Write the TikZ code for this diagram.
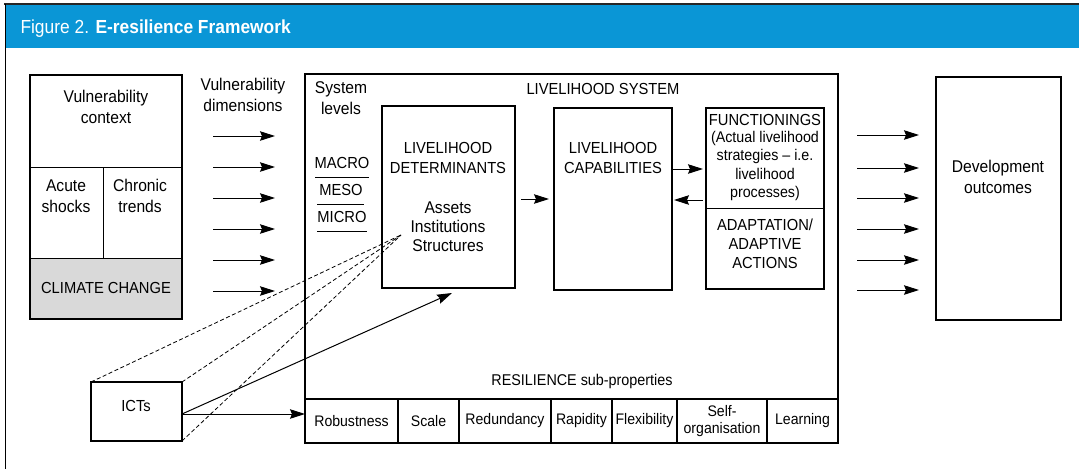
\documentclass[tikz,border=0pt]{standalone}
\usepackage{fontspec}
\setmainfont{Liberation Sans}[FakeStretch=0.92]
\usetikzlibrary{arrows.meta,positioning}
\definecolor{banner}{HTML}{0A96D6}
\definecolor{climgrey}{HTML}{D9D9D9}

\begin{document}
\begin{tikzpicture}[x=1pt,y=-1pt,line width=1pt,
    box/.style={draw,line width=1.1pt,inner sep=0pt,outer sep=0pt},
    txt/.style={align=center,inner sep=0pt,font=\fontsize{17}{21}\selectfont},
    captxt/.style={align=center,inner sep=0pt,font=\fontsize{16}{20}\selectfont},
    smalltxt/.style={align=center,inner sep=0pt,font=\fontsize{15.5}{18.5}\selectfont},
    celltxt/.style={align=center,font=\fontsize{15.3}{16.5}\selectfont},
    arr/.style={-{Stealth[length=15pt,width=9.5pt,inset=2pt]},line width=1pt},
    ictline/.style={dash pattern=on 4pt off 2.5pt,line width=0.8pt}]
    \useasboundingbox (0,0) rectangle (1079,469);

    % title bar
    \fill[banner] (5,5) rectangle (1079,48);
    \draw[line width=1.5pt,black!85] (4,4) -- (1079,4);
    \draw (5,4) -- (5,469);
    \node[anchor=base west,inner sep=0pt,text=white,font=\fontsize{18.9}{21}\selectfont]
        (title) at (20,33) {Figure 2. \textbf{E-resilience Framework}};

    % vulnerability context
    \fill[climgrey] (30,258) rectangle (182,319);
    \node[box,minimum width=152pt,minimum height=244pt] (vc) at (106,197) {};
    \draw (vc.west |- 0,167) -- (vc.east |- 0,167);
    \draw (vc.west |- 0,258) -- (vc.east |- 0,258);
    \draw (103,167) -- (103,258);
    \node[txt] (vctxt) at (106,107) {Vulnerability\\context};
    \node[txt] (acute) at (66,196) {Acute\\shocks};
    \node[txt] (chronic) at (140,196) {Chronic\\trends};
    \node[captxt] (climate) at (106,288) {CLIMATE CHANGE};

    % vulnerability dimensions
    \node[txt] (vdim) at (243,95) {Vulnerability\\dimensions};
    \foreach \y [count=\i] in {136,167,198,229,260,291} {
        \coordinate (vin\i) at (213,\y);
        \coordinate (vout\i) at (275,\y);
        \draw[arr] (vin\i) -- (vout\i);
    }

    % livelihood system
    \node[box,minimum width=533pt,minimum height=369pt] (sys) at (571.5,258.5) {};
    \node[captxt] (systitle) at (603,89) {LIVELIHOOD SYSTEM};
    \node[txt] (levels) at (341,98) {System\\levels};
    \node[captxt] (macro) at (342,163) {MACRO};
    \node[captxt] (meso) at (341,190) {MESO};
    \node[captxt] (micro) at (342,217) {MICRO};
    \draw[line width=0.9pt] (315,177) -- (369,177);
    \draw[line width=0.9pt] (317,204) -- (364,204);
    \draw[line width=0.9pt] (317,231) -- (367,231);

    \node[box,minimum width=133pt,minimum height=182pt] (det) at (448.5,197) {};
    \node[captxt] (dettxt) at (448,158) {LIVELIHOOD\\DETERMINANTS};
    \node[txt,font=\fontsize{17}{19}\selectfont] (assets) at (448,227) {Assets\\Institutions\\Structures};

    \node[box,minimum width=118pt,minimum height=182pt] (cap) at (613,199) {};
    \node[captxt] (captxt) at (613,158) {LIVELIHOOD\\CAPABILITIES};

    \node[box,minimum width=118pt,minimum height=181pt] (fun) at (765,198.5) {};
    \draw (fun.west |- 0,208) -- (fun.east |- 0,208);
    \node[captxt] (funtxt) at (765,120) {FUNCTIONINGS};
    \node[smalltxt] (strat) at (765,166) {(Actual livelihood\\strategies -- i.e.\\livelihood\\processes)};
    \node[captxt,font=\fontsize{16}{19}\selectfont] (adapt) at (765,244) {ADAPTATION/\\ADAPTIVE\\ACTIONS};

    \draw[arr] ([xshift=6pt]det.east |- cap.west) -- ([xshift=-5pt]cap.west);
    \draw[arr] (cap.east |- 0,169) -- ([xshift=-3pt]fun.west |- 0,169);
    \draw[arr] ([xshift=-3pt]fun.west |- 0,200) -- ([xshift=2pt]cap.east |- 0,200);

    % resilience sub-properties
    \node[captxt,font=\fontsize{15.6}{18}\selectfont] (restitle) at (582,381) {RESILIENCE sub-properties};
    \foreach \l/\r/\nm/\t in {305/398/rob/Robustness, 398/459/sca/Scale,
        459/551/rdn/Redundancy, 551/612/rap/Rapidity, 612/677/fle/Flexibility,
        677/767/sel/{Self-\\organisation}, 767/838/lea/Learning}
        \node[box,celltxt,inner sep=0pt,minimum width={\r-\l},minimum height=44pt]
            (\nm) at ({(\l+\r)/2},421) {\t};

    % development outcomes
    \node[box,minimum width=125pt,minimum height=243pt] (dev) at (998.5,198.5) {};
    \node[txt] (devtxt) at (998,177) {Development\\outcomes};
    \foreach \y [count=\i] in {135,168,198,229,260,290} {
        \coordinate (din\i) at (857,\y);
        \coordinate (dout\i) at (919,\y);
        \draw[arr] (din\i) -- (dout\i);
    }

    % ICTs
    \node[box,minimum width=91pt,minimum height=59pt] (ict) at (136.5,411.5) {};
    \node[captxt] (icttxt) at (136,406) {ICTs};
    \coordinate (ictfocus) at (401,235);
    \coordinate (detfoot) at (452,293);
    \draw[ictline] (ict.north west) -- (ictfocus);
    \draw[ictline] (ict.north east) -- (ictfocus);
    \draw[ictline] (ict.south east) -- (ictfocus);
    \draw[arr] (ict.east |- 0,414) -- (detfoot);
    \draw[arr] (ict.east |- 0,414) -- (rob.west |- 0,414);
\end{tikzpicture}
\end{document}
